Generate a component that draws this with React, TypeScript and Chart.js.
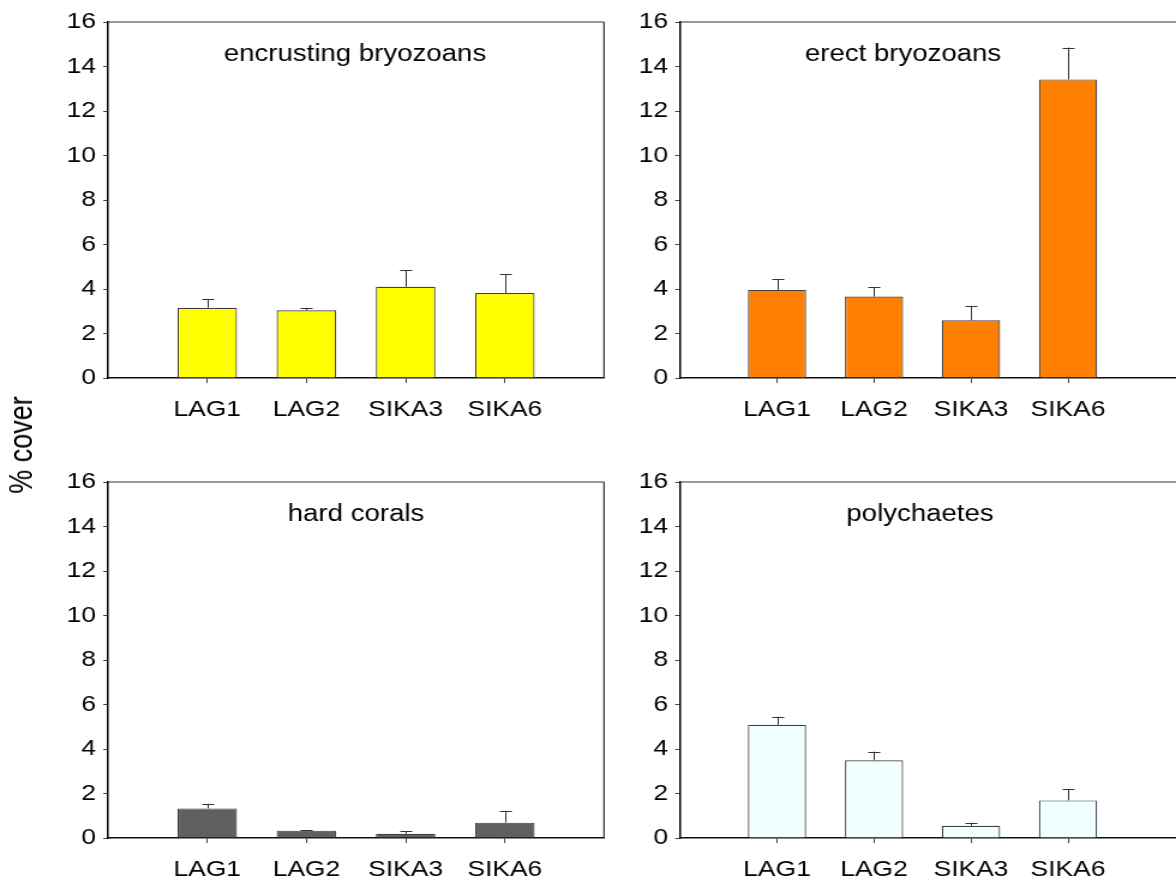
import React, { useEffect, useRef } from "react";
import { Chart, registerables } from "chart.js";

Chart.register(...registerables);

// ---------------- data ----------------
const categories = ["LAG1", "LAG2", "SIKA3", "SIKA6"];
const yTickValues = [0, 2, 4, 6, 8, 10, 12, 14, 16];

const encrustingMeans = [3.16, 3.04, 4.1, 3.82];
const encrustingErrors = [0.39, 0.09, 0.74, 0.84];

const erectMeans = [3.96, 3.66, 2.59, 13.42];
const erectErrors = [0.48, 0.42, 0.63, 1.43];

const coralMeans = [1.33, 0.33, 0.19, 0.69];
const coralErrors = [0.21, 0.03, 0.11, 0.51];

const polyMeans = [5.09, 3.49, 0.55, 1.69];
const polyErrors = [0.36, 0.39, 0.14, 0.5];

const yAxisLabel = "% cover";

// ---------------- styling ----------------
const FONT = '"Liberation Sans", Arial, Helvetica, sans-serif';
const STRETCH = 1.2; // horizontal stretch of the whole figure
const FIG_W = 1176 / STRETCH;
const FIG_H = 887;

type PanelProps = {
  title: string;
  means: number[];
  errors: number[];
  color: string;
  left: number;
  top: number;
  width: number;
  height: number;
  padTop: number;
  padRight: number;
  yAxisWidth: number;
  xAxisHeight: number;
  xMax: number;
  titleX: number;
  rightBorder: boolean;
};

function Panel(p: PanelProps) {
  const ref = useRef<HTMLCanvasElement | null>(null);

  useEffect(() => {
    const canvas = ref.current;
    if (!canvas) return;

    const errorBars = {
      id: "errorBars",
      afterDatasetsDraw(chart: any) {
        const ctx = chart.ctx;
        const meta = chart.getDatasetMeta(0);
        const yScale = chart.scales.y;
        ctx.save();
        ctx.strokeStyle = "#333333";
        ctx.lineWidth = 1;
        meta.data.forEach((el: any, i: number) => {
          const top = yScale.getPixelForValue(p.means[i] + p.errors[i]);
          const x = Math.round(el.x) + 0.5;
          ctx.beginPath();
          ctx.moveTo(x, el.y);
          ctx.lineTo(x, top);
          ctx.moveTo(x - 5, Math.round(top) + 0.5);
          ctx.lineTo(x + 5, Math.round(top) + 0.5);
          ctx.stroke();
        });
        ctx.restore();
      },
    };

    const frameAndTitle = {
      id: "frameAndTitle",
      afterDraw(chart: any) {
        const ctx = chart.ctx;
        const a = chart.chartArea;
        ctx.save();
        ctx.strokeStyle = "#333333";
        ctx.lineWidth = 1.2;
        ctx.beginPath();
        ctx.moveTo(a.left, a.top);
        ctx.lineTo(a.right, a.top);
        if (p.rightBorder) {
          ctx.moveTo(a.right, a.top);
          ctx.lineTo(a.right, a.bottom);
        }
        ctx.stroke();
        ctx.fillStyle = "#000";
        ctx.font = `23px ${FONT}`;
        ctx.textAlign = "center";
        ctx.textBaseline = "alphabetic";
        ctx.fillText(p.title, a.left + p.titleX, a.top + 39);
        ctx.restore();
      },
    };

    const chart = new Chart(canvas, {
      type: "bar",
      data: {
        datasets: [
          {
            data: p.means.map((v, i) => ({ x: i, y: v })),
            backgroundColor: p.color,
            borderColor: "#404040",
            borderWidth: 1.2,
            barPercentage: 0.6,
            categoryPercentage: 1,
          },
        ],
      },
      options: {
        responsive: false,
        maintainAspectRatio: false,
        animation: false,
        devicePixelRatio: 1,
        layout: { padding: { left: 0, top: p.padTop, right: p.padRight, bottom: 0 } },
        plugins: {
          legend: { display: false },
          tooltip: { enabled: false },
          title: { display: false },
        },
        scales: {
          x: {
            type: "linear",
            offset: false,
            min: -1,
            max: p.xMax,
            afterBuildTicks: (s: any) => {
              s.ticks = categories.map((_, i) => ({ value: i }));
            },
            afterFit: (s: any) => {
              s.height = p.xAxisHeight;
            },
            ticks: {
              autoSkip: false,
              maxRotation: 0,
              color: "#000",
              padding: 14,
              font: { family: FONT, size: 22 },
              callback: (v: any) => categories[v] ?? "",
            },
            grid: {
              offset: false,
              drawOnChartArea: false,
              drawTicks: true,
              tickLength: 5,
              tickColor: "#444",
            },
            border: { display: true, color: "#111", width: 1.5 },
          },
          y: {
            type: "linear",
            min: 0,
            max: 16,
            afterBuildTicks: (s: any) => {
              s.ticks = yTickValues.map((v) => ({ value: v }));
            },
            afterFit: (s: any) => {
              s.width = p.yAxisWidth;
            },
            ticks: {
              color: "#000",
              padding: 6,
              font: { family: FONT, size: 22 },
              callback: (v: any) => String(v),
            },
            grid: {
              drawOnChartArea: false,
              drawTicks: true,
              tickLength: 4,
              tickColor: "#444",
            },
            border: { display: true, color: "#000", width: 1.5 },
          },
        },
      },
      plugins: [errorBars, frameAndTitle],
    } as any);

    return () => chart.destroy();
  }, []);

  return (
    <canvas
      ref={ref}
      width={p.width}
      height={p.height}
      style={{
        position: "absolute",
        left: p.left,
        top: p.top,
        width: p.width,
        height: p.height,
      }}
    />
  );
}

export default function App() {
  const leftW = 530;
  const rightX = 530;
  const rightW = FIG_W - rightX;
  const leftPlotLeft = 108 / STRETCH;
  const leftPlotRight = 604 / STRETCH;
  const rightPlotLeft = 680 / STRETCH;

  const topRow = { top: 0, height: 441, padTop: 22, xAxisHeight: 441 - 378 };
  const botRow = { top: 441, height: 446, padTop: 482 - 441, xAxisHeight: 446 - (838 - 441) };
  const leftCol = {
    left: 0,
    width: leftW,
    padRight: leftW - leftPlotRight,
    yAxisWidth: leftPlotLeft,
    xMax: 4,
    rightBorder: true,
  };
  const rightCol = {
    left: rightX,
    width: rightW,
    padRight: 0,
    yAxisWidth: rightPlotLeft - rightX,
    xMax: -1 + (1176 - 680) / 97,
    rightBorder: false,
  };

  return (
    <div
      style={{
        position: "fixed",
        left: 0,
        top: 0,
        width: FIG_W,
        height: FIG_H,
        transform: `scaleX(${STRETCH})`,
        transformOrigin: "0 0",
        background: "#fff",
        overflow: "hidden",
      }}
    >
      <Panel
        title="encrusting bryozoans"
        means={encrustingMeans}
        errors={encrustingErrors}
        color="#FFFF00"
        {...leftCol}
        {...topRow}
        titleX={(355 - 108) / STRETCH}
      />
      <Panel
        title="erect bryozoans"
        means={erectMeans}
        errors={erectErrors}
        color="#FF8000"
        {...rightCol}
        {...topRow}
        titleX={(903 - 680) / STRETCH}
      />
      <Panel
        title="hard corals"
        means={coralMeans}
        errors={coralErrors}
        color="#606060"
        {...leftCol}
        {...botRow}
        titleX={(356 - 108) / STRETCH}
      />
      <Panel
        title="polychaetes"
        means={polyMeans}
        errors={polyErrors}
        color="#F0FFFF"
        {...rightCol}
        {...botRow}
        titleX={(920 - 680) / STRETCH}
      />
      <div
        style={{
          position: "absolute",
          left: 22 / STRETCH,
          top: 445,
          transform: "translate(-50%, -50%) rotate(-90deg)",
          whiteSpace: "nowrap",
          fontFamily: FONT,
          fontSize: 27,
          color: "#000",
          lineHeight: 1,
        }}
      >
        {yAxisLabel}
      </div>
    </div>
  );
}
